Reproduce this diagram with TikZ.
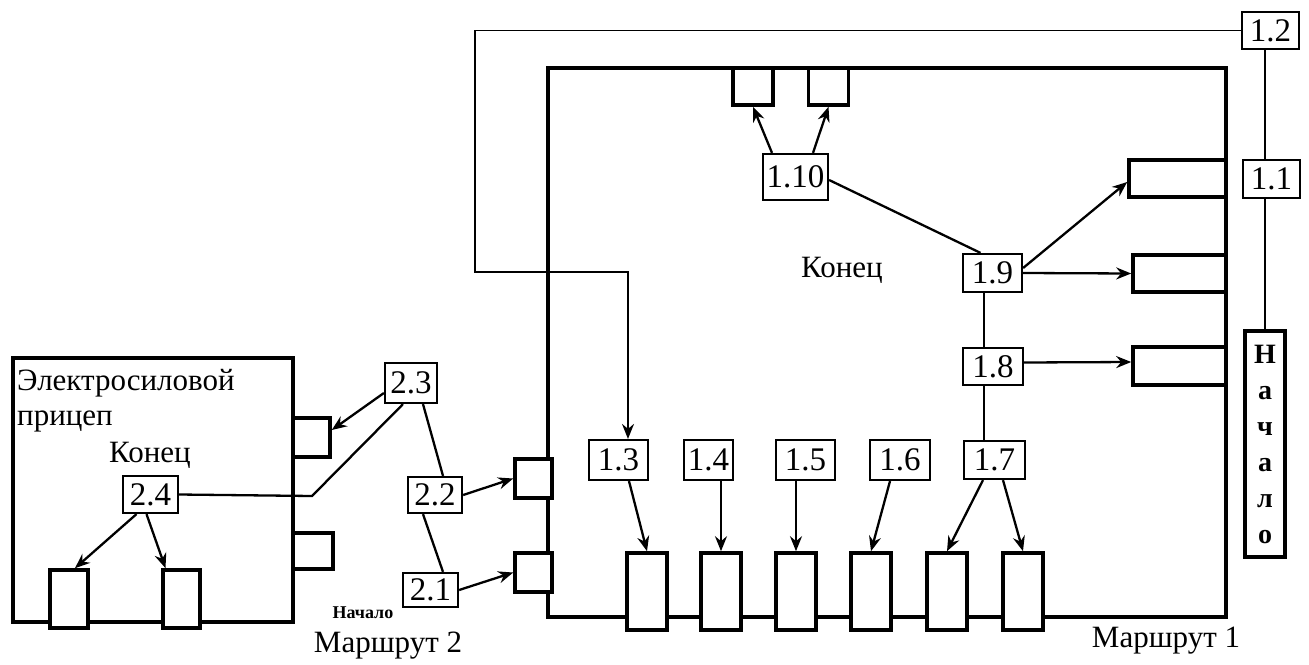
\documentclass[tikz,border=0pt]{standalone}
\usepackage{fontspec}
\setmainfont{Liberation Serif}
\usetikzlibrary{arrows.meta,calc}
\begin{document}
\begin{tikzpicture}[x=1pt,y=-1pt,
  lbl/.style={draw,line width=2.2pt,inner sep=0pt,minimum height=38pt,font=\fontsize{33}{33}\selectfont},
  sbox/.style={draw,line width=3.6pt,fill=white,inner sep=0pt},
  bigbox/.style={draw,line width=3.4pt},
  con/.style={line width=2.3pt},
  thin/.style={line width=1.8pt},
  arr/.style={con,-{Stealth[length=15pt,width=12pt,inset=5pt]}},
  txt/.style={inner sep=0pt,font=\fontsize{31}{31}\selectfont}]
\useasboundingbox (0,0) rectangle (1309,664);
\fill[white] (0,0) rectangle (1309,664);

% main frames
\draw[bigbox] (548,68) rectangle (1226,617);
\draw[bigbox] (13,358) rectangle (293,622);

% attached boxes, main frame
\node[sbox,minimum width=40pt,minimum height=37pt] (t1) at (753,86.5) {};
\node[sbox,minimum width=40pt,minimum height=37pt] (t2) at (828.5,86.5) {};
\node[sbox,minimum width=97pt,minimum height=37pt] (ra) at (1177.5,178.5) {};
\node[sbox,minimum width=93pt,minimum height=37pt] (rb) at (1179.5,273.5) {};
\node[sbox,minimum width=93pt,minimum height=38pt] (rc) at (1179.5,366) {};
\node[sbox,minimum width=37pt,minimum height=39pt] (la) at (533.5,478.5) {};
\node[sbox,minimum width=37pt,minimum height=39pt] (lb) at (533.5,572.5) {};
\foreach \i/\x in {1/647,2/721,3/796,4/871,5/947,6/1023}
  \node[sbox,minimum width=40pt,minimum height=77pt] (b\i) at (\x,591.5) {};

% attached boxes, trailer
\node[sbox,minimum width=37pt,minimum height=39pt] (s1) at (311.5,437.5) {};
\node[sbox,minimum width=40pt,minimum height=36pt] (s2) at (313,551) {};
\node[sbox,minimum width=38pt,minimum height=58pt] (p1) at (69,599) {};
\node[sbox,minimum width=37pt,minimum height=58pt] (p2) at (181.5,599) {};

% numbered boxes
\node[lbl,minimum width=57pt,minimum height=37pt] (n12) at (1270.5,30.5) {1.2};
\node[lbl,minimum width=57pt] (n11) at (1271.5,179) {1.1};
\node[lbl,minimum width=65pt,minimum height=46pt] (n110) at (795.5,177) {1.10};
\node[lbl,minimum width=59pt] (n19) at (992.5,273) {1.9};
\node[lbl,minimum width=60pt,minimum height=37pt] (n18) at (993,366.5) {1.8};
\node[lbl,minimum width=61pt] (n17) at (994.5,460) {1.7};
\node[lbl,minimum width=59pt,minimum height=40pt] (n13) at (618.5,460) {1.3};
\node[lbl,minimum width=49pt,minimum height=40pt] (n14) at (708.5,460) {1.4};
\node[lbl,minimum width=59pt,minimum height=40pt] (n15) at (805.5,460) {1.5};
\node[lbl,minimum width=60pt,minimum height=40pt] (n16) at (900,460) {1.6};
\node[lbl,minimum width=52pt,minimum height=40pt] (n23) at (411,383) {2.3};
\node[lbl,minimum width=54pt,minimum height=36pt] (n22) at (435,495) {2.2};
\node[lbl,minimum width=55pt,minimum height=34pt] (n21) at (430.5,590) {2.1};
\node[lbl,minimum width=55pt,minimum height=37pt] (n24) at (150.5,494.5) {2.4};

% vertical "Начало"
\node[draw,line width=3.4pt,inner sep=0pt,minimum width=40pt,minimum height=226pt,align=center,
  font=\bfseries\fontsize{28}{36}\selectfont] (nach) at (1265,444) {Н\\а\\ч\\а\\л\\о};

% texts
\node[txt,anchor=base west] (e1) at (17,390) {Электросиловой};
\node[txt,anchor=base west] (e2) at (17,425) {прицеп};
\node[txt,anchor=base] (k2) at (150,462) {Конец};
\node[txt,anchor=base] (k1) at (842,277) {Конец};
\node[inner sep=0pt,anchor=base,font=\bfseries\fontsize{18}{18}\selectfont] (nm2) at (363,618) {Начало};
\node[txt,anchor=base] (m2) at (388,652) {Маршрут 2};
\node[txt,anchor=base] (m1) at (1166,647) {Маршрут 1};

% route 1 feed line
\coordinate (r1) at (475,272);
\draw[thin,-{Stealth[length=15pt,width=12pt,inset=5pt]}] (n12.west) -| (r1) -| ([xshift=9.5pt]n13.north);
\draw[thin] (nach.north) -- (nach.north |- n11.south);
\draw[thin] (nach.north |- n11.north) -- (nach.north |- n12.south);

% main frame connectors
\draw[arr] ([xshift=-23.5pt]n110.north) -- (t1.south);
\draw[arr] ([xshift=17.5pt]n110.north) -- (t2.south);
\draw[con] ([yshift=-3pt]n110.east) -- ([xshift=-12pt]n19.north);
\draw[arr] ([yshift=5pt]n19.east) -- ([yshift=-3.5pt]ra.west);
\draw[arr] (n19.east) -- (rb.west);
\draw[con] ([xshift=-8.5pt]n19.south) -- ([xshift=-9pt]n18.north);
\draw[arr] ([yshift=4pt]n18.east) -- ([yshift=4pt]rc.west);
\draw[con] ([xshift=-9pt]n18.south) -- ([xshift=-10.5pt]n17.north);
\draw[arr] ([xshift=10.5pt]n13.south) -- (b1.north);
\draw[arr] (n14.south -| b2.north) -- (b2.north);
\draw[arr] (n15.south -| b3.north) -- (b3.north);
\draw[arr] ([xshift=-10pt]n16.south) -- (b4.north);
\draw[arr] ([xshift=-11.5pt]n17.south) -- (b5.north);
\draw[arr] ([xshift=8.5pt]n17.south) -- (b6.north);

% route 2 connectors
\coordinate (k) at (312,496);
\draw[con] (n24.east) -- (k) -- ([xshift=-8pt]n23.south);
\draw[arr] ([yshift=-10pt]n23.west) -- ([yshift=7.5pt]s1.east);
\draw[con] ([xshift=12pt]n23.south) -- ([xshift=8pt]n22.north);
\draw[con] ([xshift=-12pt]n22.south) -- ([xshift=12.5pt]n21.north);
\draw[arr] (n22.east) -- (la.west);
\draw[arr] (n21.east) -- (lb.west);
\draw[arr] ([xshift=-14pt]n24.south) -- ([xshift=6pt]p1.north);
\draw[arr] ([xshift=-4pt]n24.south) -- ([xshift=-16pt]p2.north);
\end{tikzpicture}
\end{document}
